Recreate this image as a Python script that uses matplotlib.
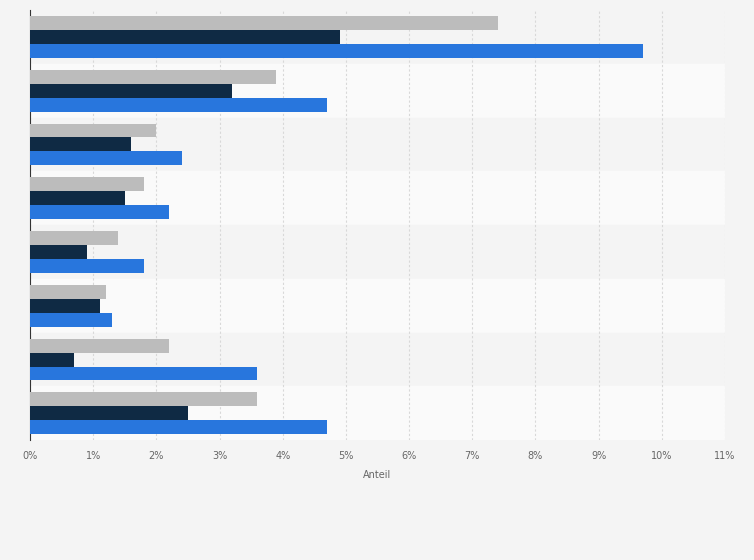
import numpy as np
import matplotlib.pyplot as plt

# values in percent, one entry per row (top to bottom)
series_gray = [7.4, 3.9, 2.0, 1.8, 1.4, 1.2, 2.2, 3.6]
series_dark = [4.9, 3.2, 1.6, 1.5, 0.9, 1.1, 0.7, 2.5]
series_blue = [9.7, 4.7, 2.4, 2.2, 1.8, 1.3, 3.6, 4.7]
x_ticks = list(range(12))
x_labels = [f"{t}%" for t in x_ticks]

fig = plt.figure(figsize=(7.54, 5.6), dpi=100, facecolor="#f4f4f4")
ax = fig.add_axes([0.0398, 0.214, 0.9217, 0.768])
ax.set_facecolor("#f4f4f4")

n = len(series_gray)
y = np.arange(n)
h = 0.26
for i in range(n):
    ax.axhspan(i - 0.5, i + 0.5, color="#fafafa" if i % 2 else "#f4f4f4", zorder=0)

ax.barh(y - h, series_gray, height=h, color="#bcbcbc", zorder=3)
ax.barh(y, series_dark, height=h, color="#0f2a44", zorder=3)
ax.barh(y + h, series_blue, height=h, color="#2876dd", zorder=3)

ax.set_ylim(n - 0.5, -0.5)
ax.set_xlim(0, 11)
ax.set_xticks(x_ticks)
ax.set_xticklabels(x_labels, fontsize=7, color="#666666")
ax.set_yticks([])
ax.grid(axis="x", color="#d8d8d8", linestyle=(0, (2, 2)), linewidth=0.8, zorder=1)
for s in ["top", "right", "bottom"]:
    ax.spines[s].set_visible(False)
ax.spines["left"].set_color("#333333")
ax.tick_params(axis="x", length=0, pad=8)
ax.set_xlabel("Anteil", fontsize=7, color="#666666", labelpad=6)

fig.savefig("out.png", dpi=100, facecolor=fig.get_facecolor())
